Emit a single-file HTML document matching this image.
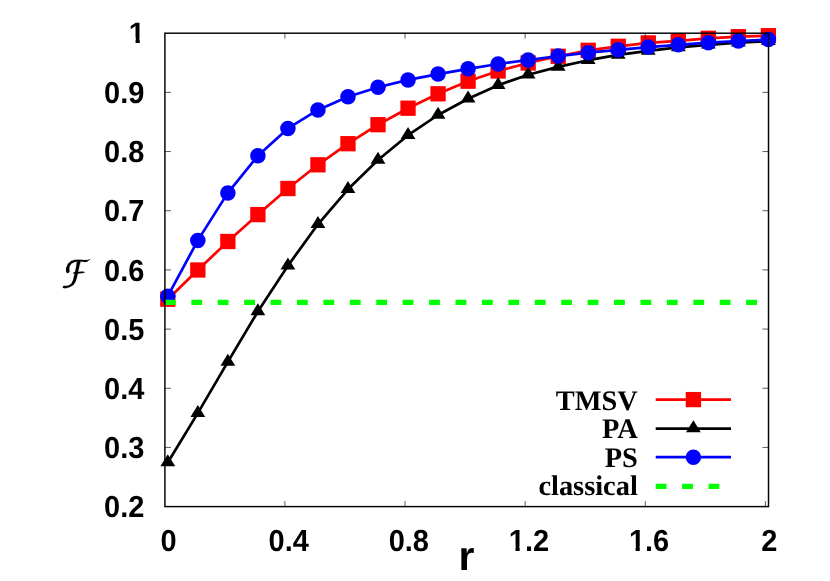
<!DOCTYPE html>
<html><head><meta charset="utf-8"><title>plot</title>
<style>html,body{margin:0;padding:0;background:#fff;}svg{display:block;will-change:transform;}text{font-family:"Liberation Sans",sans-serif;font-weight:bold;fill:#000;text-rendering:geometricPrecision;}.ser{font-family:"Liberation Serif",serif;font-weight:bold;}</style></head>
<body>
<svg width="830" height="581" viewBox="0 0 830 581">
<rect x="0" y="0" width="830" height="581" fill="#fff"/>
<polyline points="167.80,299.20 197.83,270.00 227.86,241.50 257.89,214.60 287.92,188.50 317.95,164.80 347.98,143.70 378.01,124.70 408.04,108.20 438.07,93.80 468.10,81.20 498.13,71.00 528.16,63.00 558.19,56.30 588.22,50.30 618.25,46.30 648.28,42.90 678.31,40.90 708.34,38.30 738.37,36.70 768.40,35.70" fill="none" stroke="#ff0000" stroke-width="2.7" stroke-linejoin="round"/>
<rect x="160.15" y="291.55" width="15.30" height="15.30" fill="#ff0000"/>
<rect x="190.18" y="262.35" width="15.30" height="15.30" fill="#ff0000"/>
<rect x="220.21" y="233.85" width="15.30" height="15.30" fill="#ff0000"/>
<rect x="250.24" y="206.95" width="15.30" height="15.30" fill="#ff0000"/>
<rect x="280.27" y="180.85" width="15.30" height="15.30" fill="#ff0000"/>
<rect x="310.30" y="157.15" width="15.30" height="15.30" fill="#ff0000"/>
<rect x="340.33" y="136.05" width="15.30" height="15.30" fill="#ff0000"/>
<rect x="370.36" y="117.05" width="15.30" height="15.30" fill="#ff0000"/>
<rect x="400.39" y="100.55" width="15.30" height="15.30" fill="#ff0000"/>
<rect x="430.42" y="86.15" width="15.30" height="15.30" fill="#ff0000"/>
<rect x="460.45" y="73.55" width="15.30" height="15.30" fill="#ff0000"/>
<rect x="490.48" y="63.35" width="15.30" height="15.30" fill="#ff0000"/>
<rect x="520.51" y="55.35" width="15.30" height="15.30" fill="#ff0000"/>
<rect x="550.54" y="48.65" width="15.30" height="15.30" fill="#ff0000"/>
<rect x="580.57" y="42.65" width="15.30" height="15.30" fill="#ff0000"/>
<rect x="610.60" y="38.65" width="15.30" height="15.30" fill="#ff0000"/>
<rect x="640.63" y="35.25" width="15.30" height="15.30" fill="#ff0000"/>
<rect x="670.66" y="33.25" width="15.30" height="15.30" fill="#ff0000"/>
<rect x="700.69" y="30.65" width="15.30" height="15.30" fill="#ff0000"/>
<rect x="730.72" y="29.05" width="15.30" height="15.30" fill="#ff0000"/>
<rect x="760.75" y="28.05" width="15.30" height="15.30" fill="#ff0000"/>
<polyline points="167.80,462.50 197.83,413.10 227.86,361.90 257.89,311.50 287.92,265.70 317.95,224.30 347.98,189.30 378.01,160.00 408.04,135.20 438.07,115.00 468.10,98.70 498.13,85.20 528.16,74.70 558.19,66.90 588.22,60.20 618.25,54.90 648.28,50.90 678.31,47.40 708.34,44.80 738.37,42.60 768.40,41.10" fill="none" stroke="#000" stroke-width="2.7" stroke-linejoin="round"/>
<polygon points="167.80,454.30 160.40,466.30 175.20,466.30" fill="#000"/>
<polygon points="197.83,404.90 190.43,416.90 205.23,416.90" fill="#000"/>
<polygon points="227.86,353.70 220.46,365.70 235.26,365.70" fill="#000"/>
<polygon points="257.89,303.30 250.49,315.30 265.29,315.30" fill="#000"/>
<polygon points="287.92,257.50 280.52,269.50 295.32,269.50" fill="#000"/>
<polygon points="317.95,216.10 310.55,228.10 325.35,228.10" fill="#000"/>
<polygon points="347.98,181.10 340.58,193.10 355.38,193.10" fill="#000"/>
<polygon points="378.01,151.80 370.61,163.80 385.41,163.80" fill="#000"/>
<polygon points="408.04,127.00 400.64,139.00 415.44,139.00" fill="#000"/>
<polygon points="438.07,106.80 430.67,118.80 445.47,118.80" fill="#000"/>
<polygon points="468.10,90.50 460.70,102.50 475.50,102.50" fill="#000"/>
<polygon points="498.13,77.00 490.73,89.00 505.53,89.00" fill="#000"/>
<polygon points="528.16,66.50 520.76,78.50 535.56,78.50" fill="#000"/>
<polygon points="558.19,58.70 550.79,70.70 565.59,70.70" fill="#000"/>
<polygon points="588.22,52.00 580.82,64.00 595.62,64.00" fill="#000"/>
<polygon points="618.25,46.70 610.85,58.70 625.65,58.70" fill="#000"/>
<polygon points="648.28,42.70 640.88,54.70 655.68,54.70" fill="#000"/>
<polygon points="678.31,39.20 670.91,51.20 685.71,51.20" fill="#000"/>
<polygon points="708.34,36.60 700.94,48.60 715.74,48.60" fill="#000"/>
<polygon points="738.37,34.40 730.97,46.40 745.77,46.40" fill="#000"/>
<polygon points="768.40,32.90 761.00,44.90 775.80,44.90" fill="#000"/>
<polyline points="167.80,296.20 197.83,240.40 227.86,192.90 257.89,155.70 287.92,128.40 317.95,109.90 347.98,96.70 378.01,87.30 408.04,79.90 438.07,74.10 468.10,68.80 498.13,64.00 528.16,60.00 558.19,56.10 588.22,52.65 618.25,49.80 648.28,47.05 678.31,44.80 708.34,42.70 738.37,41.00 768.40,39.60" fill="none" stroke="#0000ff" stroke-width="2.7" stroke-linejoin="round"/>
<circle cx="167.80" cy="296.20" r="7.75" fill="#0000ff"/>
<circle cx="197.83" cy="240.40" r="7.75" fill="#0000ff"/>
<circle cx="227.86" cy="192.90" r="7.75" fill="#0000ff"/>
<circle cx="257.89" cy="155.70" r="7.75" fill="#0000ff"/>
<circle cx="287.92" cy="128.40" r="7.75" fill="#0000ff"/>
<circle cx="317.95" cy="109.90" r="7.75" fill="#0000ff"/>
<circle cx="347.98" cy="96.70" r="7.75" fill="#0000ff"/>
<circle cx="378.01" cy="87.30" r="7.75" fill="#0000ff"/>
<circle cx="408.04" cy="79.90" r="7.75" fill="#0000ff"/>
<circle cx="438.07" cy="74.10" r="7.75" fill="#0000ff"/>
<circle cx="468.10" cy="68.80" r="7.75" fill="#0000ff"/>
<circle cx="498.13" cy="64.00" r="7.75" fill="#0000ff"/>
<circle cx="528.16" cy="60.00" r="7.75" fill="#0000ff"/>
<circle cx="558.19" cy="56.10" r="7.75" fill="#0000ff"/>
<circle cx="588.22" cy="52.65" r="7.75" fill="#0000ff"/>
<circle cx="618.25" cy="49.80" r="7.75" fill="#0000ff"/>
<circle cx="648.28" cy="47.05" r="7.75" fill="#0000ff"/>
<circle cx="678.31" cy="44.80" r="7.75" fill="#0000ff"/>
<circle cx="708.34" cy="42.70" r="7.75" fill="#0000ff"/>
<circle cx="738.37" cy="41.00" r="7.75" fill="#0000ff"/>
<circle cx="768.40" cy="39.60" r="7.75" fill="#0000ff"/>
<line x1="164.9" y1="302.3" x2="768.5" y2="302.3" stroke="#00ff00" stroke-width="5.2" stroke-dasharray="10.8 15.62"/>
<line x1="655.7" y1="399.6" x2="731.0" y2="399.6" stroke="#ff0000" stroke-width="2.7"/><rect x="685.75" y="391.95" width="15.30" height="15.30" fill="#ff0000"/>
<line x1="655.7" y1="428.55" x2="731.0" y2="428.55" stroke="#000" stroke-width="2.7"/><polygon points="693.40,420.35 686.00,432.35 700.80,432.35" fill="#000"/>
<line x1="655.7" y1="457.2" x2="731.0" y2="457.2" stroke="#0000ff" stroke-width="2.7"/><circle cx="693.40" cy="457.20" r="7.75" fill="#0000ff"/>
<line x1="655.7" y1="486.3" x2="731.0" y2="486.3" stroke="#00ff00" stroke-width="5.2" stroke-dasharray="10.8 15.62"/>
<text class="ser" x="637.8" y="409.7" font-size="28.4" text-anchor="end">TMSV</text>
<text class="ser" x="637.8" y="438.25" font-size="28.4" text-anchor="end">PA</text>
<text class="ser" x="637.8" y="467.1" font-size="28.4" text-anchor="end">PS</text>
<text class="ser" x="637.8" y="495.2" font-size="28.4" text-anchor="end">classical</text>
<path d="M164.9 447.43h6M768.5 447.43h-6M164.9 388.25h6M768.5 388.25h-6M164.9 329.08h6M768.5 329.08h-6M164.9 269.90h6M768.5 269.90h-6M164.9 210.73h6M768.5 210.73h-6M164.9 151.55h6M768.5 151.55h-6M164.9 92.37h6M768.5 92.37h-6M284.92 506.6v-5.5M284.92 33.2v5.5M405.04 506.6v-5.5M405.04 33.2v5.5M525.16 506.6v-5.5M525.16 33.2v5.5M645.28 506.6v-5.5M645.28 33.2v5.5M765.40 506.6v-5.5M765.40 33.2v5.5" stroke="#000" stroke-width="0.65" fill="none"/>
<rect x="164.9" y="33.2" width="603.6" height="473.40000000000003" fill="none" stroke="#000" stroke-width="1.45"/>
<text transform="translate(144.4,517.25) scale(1,1.05)" font-size="29" text-anchor="end">0.2</text>
<text transform="translate(144.4,458.07) scale(1,1.05)" font-size="29" text-anchor="end">0.3</text>
<text transform="translate(144.4,398.90) scale(1,1.05)" font-size="29" text-anchor="end">0.4</text>
<text transform="translate(144.4,339.73) scale(1,1.05)" font-size="29" text-anchor="end">0.5</text>
<text transform="translate(144.4,280.55) scale(1,1.05)" font-size="29" text-anchor="end">0.6</text>
<text transform="translate(144.4,221.38) scale(1,1.05)" font-size="29" text-anchor="end">0.7</text>
<text transform="translate(144.4,162.20) scale(1,1.05)" font-size="29" text-anchor="end">0.8</text>
<text transform="translate(144.4,103.02) scale(1,1.05)" font-size="29" text-anchor="end">0.9</text>
<clipPath id="c1"><polygon points="120,10 145,10 145,38.4 139.75,38.4 139.75,50 135.55,50 135.55,37.5 120,37.5"/></clipPath>
<g clip-path="url(#c1)"><text transform="translate(145.0,42.65) scale(1,1.02)" font-size="29" text-anchor="end">1</text></g>
<text transform="translate(168.60,550.8) scale(1,1.05)" font-size="29" text-anchor="middle">0</text>
<text transform="translate(288.72,550.8) scale(1,1.05)" font-size="29" text-anchor="middle">0.4</text>
<text transform="translate(408.84,550.8) scale(1,1.05)" font-size="29" text-anchor="middle">0.8</text>
<clipPath id="cx12"><path clip-rule="evenodd" d="M503.80 520.8H554.12V555.8H503.80Z M509.37 546.20H515.47V552.8H509.37Z M519.65 546.20H524.92V552.8H519.65Z"/></clipPath>
<g clip-path="url(#cx12)"><text transform="translate(528.96,550.8) scale(1,1.05)" font-size="29" text-anchor="middle">1.2</text></g>
<clipPath id="cx16"><path clip-rule="evenodd" d="M623.92 520.8H674.24V555.8H623.92Z M629.49 546.20H635.59V552.8H629.49Z M639.77 546.20H645.04V552.8H639.77Z"/></clipPath>
<g clip-path="url(#cx16)"><text transform="translate(649.08,550.8) scale(1,1.05)" font-size="29" text-anchor="middle">1.6</text></g>
<text transform="translate(769.20,550.8) scale(1,1.05)" font-size="29" text-anchor="middle">2</text>
<text x="466.5" y="569.9" font-size="41" text-anchor="middle">r</text>
<g transform="translate(55,250) scale(0.07745)" fill="#000" stroke="#000" stroke-width="2" stroke-linejoin="round"><path d="M325.0 150.0C332.3 173.3 322.0 170.0 312.0 220.0C302.0 270.0 306.3 250.0 295.0 300.0C283.7 350.0 291.3 328.3 278.0 370.0C264.7 411.7 276.0 393.3 255.0 425.0C234.0 456.7 246.7 444.0 215.0 465.0C183.3 486.0 194.3 479.0 160.0 488.0C125.7 497.0 131.0 494.7 112.0 492.0C93.0 489.3 103.0 489.0 103.0 480.0C103.0 471.0 96.3 471.0 112.0 465.0C127.7 459.0 122.3 468.7 150.0 462.0C177.7 455.3 169.0 465.7 195.0 445.0C221.0 424.3 211.3 435.0 228.0 400.0C244.7 365.0 235.0 376.7 245.0 340.0C255.0 303.3 249.0 330.0 258.0 290.0C267.0 250.0 261.3 266.7 272.0 220.0C282.7 173.3 272.3 173.3 290.0 150.0C307.7 126.7 317.7 126.7 325.0 150.0Z"/><path d="M452.0 116.0C448.7 112.0 444.0 124.0 420.0 128.0C396.0 132.0 420.0 129.0 380.0 128.0C340.0 127.0 346.7 123.7 300.0 125.0C253.3 126.3 276.7 121.0 240.0 132.0C203.3 143.0 218.3 133.7 190.0 158.0C161.7 182.3 170.7 172.7 155.0 205.0C139.3 237.3 144.7 226.7 143.0 255.0C141.3 283.3 143.7 275.7 150.0 290.0C156.3 304.3 153.0 298.0 162.0 298.0C171.0 298.0 168.3 299.3 177.0 290.0C185.7 280.7 185.3 286.7 188.0 270.0C190.7 253.3 181.0 265.0 185.0 240.0C189.0 215.0 183.3 220.0 200.0 195.0C216.7 170.0 208.3 179.3 235.0 165.0C261.7 150.7 241.7 156.3 280.0 152.0C318.3 147.7 310.0 151.0 350.0 152.0C390.0 153.0 373.3 159.0 400.0 155.0C426.7 151.0 412.7 153.0 430.0 140.0C447.3 127.0 455.3 120.0 452.0 116.0Z"/><path d="M246.0 288.0C263.3 280.0 260.0 286.7 300.0 284.0C340.0 281.3 342.7 276.7 366.0 280.0C389.3 283.3 392.0 286.7 370.0 294.0C348.0 301.3 340.7 297.3 300.0 302.0C259.3 306.7 266.0 312.7 248.0 308.0C230.0 303.3 228.7 296.0 246.0 288.0Z"/></g>
</svg></body></html>
